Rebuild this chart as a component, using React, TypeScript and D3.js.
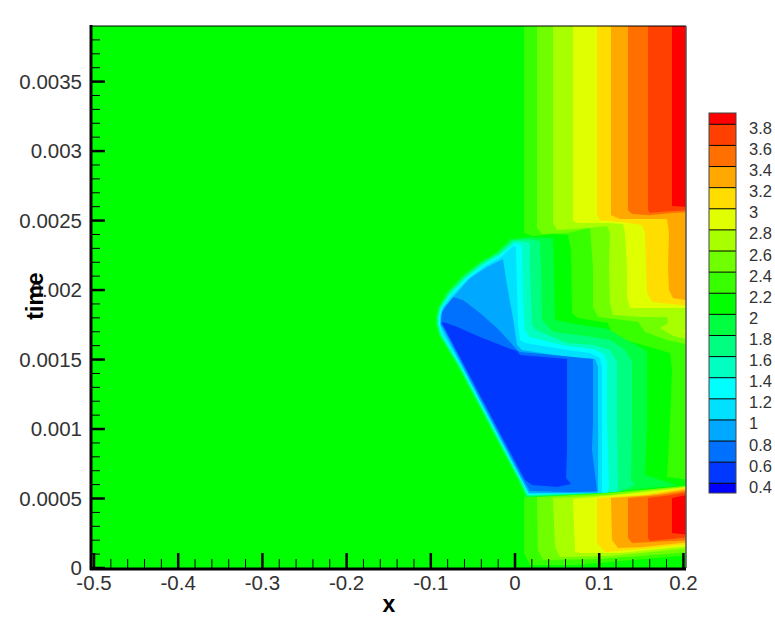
import React from "react";
import * as d3 from "d3";

type P = [number, number];

const xTicks = [-0.5, -0.4, -0.3, -0.2, -0.1, 0, 0.1, 0.2];
const tTicks = [0, 0.0005, 0.001, 0.0015, 0.002, 0.0025, 0.003, 0.0035];
const legendLevels = [3.8, 3.6, 3.4, 3.2, 3, 2.8, 2.6, 2.4, 2.2, 2, 1.8, 1.6, 1.4, 1.2, 1, 0.8, 0.6, 0.4];
const bandColors = ["#ff0000", "#ff4000", "#ff7000", "#ffa800", "#ffdd00", "#e0ff00", "#a8ff00", "#70ff00", "#38ff00", "#00ff00", "#00ff40", "#00ff80", "#00ffc0", "#00ffff", "#00e0ff", "#00a8ff", "#0070ff", "#0038ff", "#0000ff"];

const colorAbove = (lv: number) => bandColors[legendLevels.indexOf(lv)];
const colorBelow = (lv: number) => bandColors[legendLevels.indexOf(lv) + 1];

// upper field: region with value >= level, bounded by the top and right edges
const upper22: P[] = [[.0107,.0039],[.0107,.00241],[.0214,.002388],[.0451,.002403],[.0629,.002396],[.0665,.002288],[.0677,.001834],[.0748,.001799],[.1104,.001763],[.1164,.001662],[.152,.001604],[.1841,.001547],[.1865,.001424],[.1841,.001043],[.1805,.000655],[.2031,.000633]];
const upper24: P[] = [[.0261,.0039],[.0261,.002446],[.0321,.002403],[.0618,.00241],[.0891,.002446],[.0926,.002165],[.0926,.001878],[.0986,.001806],[.1283,.001784],[.1461,.00177],[.1544,.001698],[.1805,.00164],[.2031,.001604]];
const upper26: P[] = [[.0451,.0039],[.0451,.002482],[.0499,.002432],[.0855,.002446],[.1093,.00246],[.1128,.00241],[.1116,.002165],[.1128,.001906],[.1164,.00182],[.152,.001806],[.1805,.001806],[.1817,.001763],[.1722,.001727],[.1876,.001669],[.2031,.00164]];
const upper28: P[] = [[.0689,.0039],[.0689,.002496],[.0748,.002482],[.1093,.002482],[.1283,.002475],[.1306,.00241],[.133,.002165],[.133,.00195],[.1366,.00187],[.2031,.00187]];
const speck28: P[] = [[.196,.001705],[.2031,.001712],[.2031,.001698]];
const upper30: P[] = [[.0974,.0039],[.0974,.002539],[.1009,.002503],[.1271,.002489],[.1508,.002468],[.1544,.00241],[.1556,.002165],[.1568,.001978],[.1627,.001914],[.2031,.001885]];
const upper32: P[] = [[.114,.0039],[.114,.002539],[.1247,.002511],[.1805,.002511],[.1829,.00241],[.1817,.002165],[.1829,.002],[.1876,.001942],[.2031,.001921]];
const upper34: P[] = [[.1342,.0039],[.1342,.002575],[.139,.002547],[.1603,.002539],[.1865,.002554],[.2031,.002561]];
const upper36: P[] = [[.158,.0039],[.158,.002575],[.1603,.002557],[.1865,.002568],[.2031,.002575]];
const upper38: P[] = [[.1865,.0039],[.1865,.002604],[.2031,.002597]];

// lower field, below the shock
const lower22: P[] = [[.0107,.000511],[.0214,.000525],[.0926,.000532],[.152,.000554],[.2031,.000597],[.2031,.000094],[.1128,.000043],[.0736,.000022],[.0178,.000022],[.0107,.000108]];
const lower24: P[] = [[.0261,.000511],[.0974,.000532],[.2031,.000594],[.2031,.000115],[.1009,.000065],[.0333,.000058],[.0273,.000129]];
const lower26: P[] = [[.0451,.000504],[.1128,.000525],[.2031,.00059],[.2031,.000144],[.1128,.000086],[.0534,.000079],[.0475,.000151]];
const lower28: P[] = [[.0689,.000496],[.133,.000532],[.2031,.000586],[.2031,.000158],[.1247,.000108],[.0772,.000108],[.0713,.000115]];
const lower30: P[] = [[.0974,.000504],[.152,.000525],[.2031,.000583],[.2031,.000173],[.1366,.000129],[.1069,.000115],[.0974,.00018]];
const lower32: P[] = [[.114,.000504],[.1603,.000525],[.2031,.000572],[.2031,.000187],[.152,.000151],[.1223,.000144],[.1152,.000201]];
const lower34: P[] = [[.1342,.000504],[.1722,.000525],[.2031,.000561],[.2031,.000201],[.139,.00018],[.1342,.000216]];
const lower36: P[] = [[.158,.000504],[.1865,.000525],[.2031,.00055],[.2031,.000223],[.1603,.000194],[.158,.000216]];
const lower38: P[] = [[.1865,.000504],[.2031,.000532],[.2031,.000237],[.1865,.000252]];

// low-density pocket: region with value <= level
const pocket20: P[] = [[-.0059,.002367],[.0178,.002381],[.0451,.002374],[.0463,.002165],[.0475,.001784],[.0713,.001755],[.1104,.001719],[.1283,.001655],[.1568,.001561],[.1568,.001043],[.1544,.000669],[.1841,.000611],[.1924,.000594],[.152,.000572],[.1128,.000543],[.0653,.000525],[.0131,.000507],[.0036,.000633],[-.0689,.00146],[-.0831,.001604],[-.0903,.001676],[-.0938,.001748],[-.0938,.001806],[-.0914,.00187],[-.0808,.001986],[-.0618,.002108],[-.0416,.002201],[-.0214,.002273]];
const pocket18: P[] = [[-.0036,.00236],[.0178,.002367],[.0297,.002352],[.0309,.002165],[.0321,.001784],[.0451,.001698],[.0926,.001662],[.1128,.00164],[.1306,.001568],[.139,.001482],[.139,.001043],[.1378,.000633],[.1425,.000597],[.1247,.00055],[.0653,.000529],[.0143,.000514],[.0048,.000633],[-.0677,.00146],[-.0819,.001604],[-.0891,.001676],[-.0926,.001748],[-.0926,.001806],[-.0903,.00187],[-.0796,.001978],[-.0606,.0021],[-.0404,.002194],[-.0202,.002266]];
const pocket16: P[] = [[-.0012,.002352],[.0083,.002352],[.0178,.002338],[.0178,.002165],[.0202,.001748],[.0249,.001712],[.0618,.001619],[.0926,.001604],[.1128,.001568],[.1211,.001482],[.1211,.001043],[.1223,.000583],[.1223,.00055],[.0653,.000532],[.0148,.000522],[.0059,.000633],[-.0665,.00146],[-.0808,.001604],[-.0879,.001676],[-.0914,.001748],[-.0914,.001806],[-.0891,.00187],[-.0784,.001971],[-.0594,.002093],[-.0392,.002187],[-.019,.002259]];
const pocket14: P[] = [[0,.002338],[.0083,.002324],[.0095,.001928],[.0119,.001712],[.0166,.001662],[.0618,.001597],[.0926,.001576],[.1057,.00154],[.1093,.001482],[.1093,.001043],[.1116,.000583],[.1104,.000543],[.0653,.000536],[.0154,.000525],[.0069,.000633],[-.0653,.00146],[-.0796,.001604],[-.0867,.001676],[-.0903,.001748],[-.0903,.001813],[-.0879,.00187],[-.0772,.001964],[-.0582,.002086],[-.038,.00218],[-.0178,.002252]];
const pocket12: P[] = [[-.0024,.002316],[.0012,.002311],[.0024,.002],[.0036,.001748],[.0059,.00164],[.0119,.001619],[.0618,.001568],[.0891,.001547],[.1009,.001511],[.1033,.001453],[.1033,.001043],[.1033,.00054],[.0653,.000536],[.016,.000532],[.0077,.000633],[-.0641,.00146],[-.0784,.001604],[-.0855,.001676],[-.0891,.001748],[-.0891,.001813],[-.0867,.00187],[-.076,.001957],[-.0558,.002079],[-.0356,.002173],[-.0166,.002237],[-.0059,.002295]];
const pocket10: P[] = [[-.0143,.002223],[-.0095,.002036],[-.0024,.001799],[.0024,.001604],[.0083,.001568],[.0618,.001518],[.095,.001504],[.0986,.001446],[.0986,.001043],[.0986,.000543],[.0653,.00054],[.0166,.00054],[.0083,.000633],[-.0855,.001712],[-.0885,.001748],[-.0879,.001813],[-.0843,.001878],[-.0713,.001964],[-.0534,.002086],[-.0333,.002165]];
const pocket08: P[] = [[-.0736,.00195],[-.0618,.001928],[-.0416,.001834],[-.0214,.001727],[-.0059,.001626],[.0024,.001568],[.0059,.001554],[.0451,.001532],[.0926,.001504],[.0926,.001043],[.0914,.000849],[.0974,.000561],[.0974,.00055],[.0653,.000547],[.0178,.000554],[.0101,.000633],[-.0855,.001734],[-.0879,.001763],[-.0867,.001842]];
const pocket06: P[] = [[-.0855,.00177],[-.0713,.001741],[-.0416,.001662],[-.0083,.001583],[.0024,.001561],[.0059,.001532],[.0618,.001504],[.0618,.000849],[.0606,.000647],[.0665,.000604],[.0499,.000583],[.0202,.000597],[.0119,.000633],[-.0843,.001734],[-.0873,.001755]];

const xDomainEnd = 0.2031;
const tTop = 0.0039;
const bleedX = 0.006;
const bleedT = 0.00004;

const xScale = d3.scaleLinear().domain([-0.5, 0.2]).range([94, 683.4]);
const tScale = d3.scaleLinear().domain([0, tTop]).range([568, 26]);
const legendScale = d3.scaleLinear().domain([0.4, 3.8]).range([483.3, 124.3]);
const legendTop = 3.907;
const legendBottom = 0.308;

// Edge points are pushed just past the frame so the soft field stays solid up to the clip.
const line = d3
  .line<P>()
  .x((p) => xScale(p[0] >= xDomainEnd ? p[0] + bleedX : p[0]))
  .y((p) => tScale(p[1] >= tTop ? p[1] + bleedT : p[1]))
  .curve(d3.curveLinearClosed);

const withCorner = (pts: P[]): P[] => [...pts, [xDomainEnd, tTop]];

const layers: { pts: P[]; fill: string }[] = [
  { pts: withCorner(upper22), fill: colorAbove(2.2) },
  { pts: withCorner(upper24), fill: colorAbove(2.4) },
  { pts: withCorner(upper26), fill: colorAbove(2.6) },
  { pts: withCorner(upper28), fill: colorAbove(2.8) },
  { pts: speck28, fill: colorAbove(2.8) },
  { pts: withCorner(upper30), fill: colorAbove(3) },
  { pts: withCorner(upper32), fill: colorAbove(3.2) },
  { pts: withCorner(upper34), fill: colorAbove(3.4) },
  { pts: withCorner(upper36), fill: colorAbove(3.6) },
  { pts: withCorner(upper38), fill: colorAbove(3.8) },
  { pts: lower22, fill: colorAbove(2.2) },
  { pts: lower24, fill: colorAbove(2.4) },
  { pts: lower26, fill: colorAbove(2.6) },
  { pts: lower28, fill: colorAbove(2.8) },
  { pts: lower30, fill: colorAbove(3) },
  { pts: lower32, fill: colorAbove(3.2) },
  { pts: lower34, fill: colorAbove(3.4) },
  { pts: lower36, fill: colorAbove(3.6) },
  { pts: lower38, fill: colorAbove(3.8) },
  { pts: pocket20, fill: colorBelow(2) },
  { pts: pocket18, fill: colorBelow(1.8) },
  { pts: pocket16, fill: colorBelow(1.6) },
  { pts: pocket14, fill: colorBelow(1.4) },
  { pts: pocket12, fill: colorBelow(1.2) },
  { pts: pocket10, fill: colorBelow(1) },
  { pts: pocket08, fill: colorBelow(0.8) },
  { pts: pocket06, fill: colorBelow(0.6) },
];

const xMinor = d3.range(-25, 11).map((i) => i * 0.02).filter((v) => Math.abs((v * 10) - Math.round(v * 10)) > 1e-6);
const tMinor = d3.range(0, 39).map((i) => i * 0.0001).filter((_, i) => i % 5 !== 0);

const FONT = "'Liberation Sans', Arial, sans-serif";
const plotLeft = 92;
const plotRight = 686;
const bottomY = tScale(0);
const topY = tScale(tTop);
const TEXT = "#333";

const fmtT = (v: number) => (v === 0 ? "0" : String(+v.toFixed(4)));

export default function App() {
  const bands = bandColors.map((c, i) => {
    const hi = i === 0 ? legendTop : legendLevels[i - 1];
    const lo = i === legendLevels.length ? legendBottom : legendLevels[i];
    return { c, hi, lo };
  });
  return (
    <svg width={775} height={625} style={{ position: "absolute", left: 0, top: 0, background: "#fff" }}>
      <defs>
        <clipPath id="plot">
          <rect x={plotLeft} y={topY} width={plotRight - plotLeft} height={bottomY - topY} />
        </clipPath>
        <filter id="soft" x="-2%" y="-2%" width="104%" height="104%">
          <feGaussianBlur stdDeviation={0.55} />
        </filter>
      </defs>
      <g clipPath="url(#plot)">
        <g filter="url(#soft)">
          <rect
            x={plotLeft - 6}
            y={topY - 6}
            width={plotRight - plotLeft + 12}
            height={bottomY - topY + 12}
            fill={colorAbove(2)}
          />
          {layers.map((l, i) => (
            <path key={i} d={line(l.pts) ?? ""} fill={l.fill} />
          ))}
        </g>
      </g>

      {/* frame */}
      <line x1={plotLeft} x2={plotRight} y1={topY} y2={topY} stroke="#000" strokeWidth={1} />
      <line x1={plotRight} x2={plotRight} y1={topY} y2={bottomY} stroke="#555" strokeWidth={1.5} />
      <line x1={91} x2={91} y1={topY - 1} y2={bottomY + 2} stroke="#000" strokeWidth={3} />
      <line x1={90} x2={plotRight} y1={bottomY + 1} y2={bottomY + 1} stroke="#000" strokeWidth={3} />

      {/* ticks */}
      {tMinor.map((v) => (
        <line key={v} x1={92} x2={100} y1={tScale(v)} y2={tScale(v)} stroke="#000" strokeWidth={1} />
      ))}
      {tTicks.map((v) => (
        <line key={v} x1={92} x2={105} y1={tScale(v)} y2={tScale(v)} stroke="#000" strokeWidth={2.5} />
      ))}
      {xMinor.map((v) => (
        <line key={v} x1={xScale(v)} x2={xScale(v)} y1={bottomY} y2={bottomY - 9} stroke="#000" strokeWidth={1} />
      ))}
      {xTicks.map((v) => (
        <line key={v} x1={xScale(v)} x2={xScale(v)} y1={bottomY} y2={bottomY - 15} stroke="#000" strokeWidth={2.5} />
      ))}

      {/* tick labels */}
      <g fontFamily={FONT} fontSize={20.5} fill={TEXT}>
        {tTicks.map((v) => (
          <text key={v} x={82} y={tScale(v) + 7} textAnchor="end">
            {fmtT(v)}
          </text>
        ))}
        {xTicks.map((v) => (
          <text key={v} x={xScale(v)} y={590} textAnchor="middle">
            {String(v)}
          </text>
        ))}
      </g>

      {/* axis titles */}
      <text x={389} y={612} textAnchor="middle" fontFamily={FONT} fontWeight="bold" fontSize={23} fill="#000">
        x
      </text>
      <text
        transform="translate(43,296) rotate(-90)"
        textAnchor="middle"
        fontFamily={FONT}
        fontWeight="bold"
        fontSize={23}
        fill="#000"
      >
        time
      </text>

      {/* legend */}
      <g>
        {bands.map((b, i) => (
          <rect
            key={i}
            x={709}
            width={27}
            y={legendScale(b.hi)}
            height={legendScale(b.lo) - legendScale(b.hi)}
            fill={b.c}
          />
        ))}
        {legendLevels.map((lv) => (
          <line key={lv} x1={709} x2={736} y1={legendScale(lv)} y2={legendScale(lv)} stroke="#000" strokeWidth={1} />
        ))}
        <rect
          x={709}
          y={legendScale(legendTop)}
          width={27}
          height={legendScale(legendBottom) - legendScale(legendTop)}
          fill="none"
          stroke="#444"
          strokeWidth={1}
        />
        {legendLevels.map((lv) => (
          <text key={lv} x={749} y={legendScale(lv) + 9.5} fontFamily={FONT} fontSize={16.5} fill={TEXT}>
            {String(lv)}
          </text>
        ))}
      </g>
    </svg>
  );
}
